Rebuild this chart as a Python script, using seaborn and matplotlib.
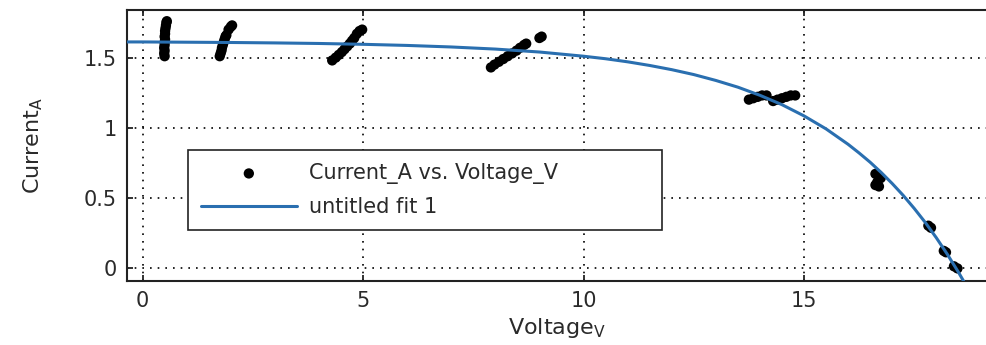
import numpy as np
import pandas as pd
import matplotlib
matplotlib.use("Agg")
import matplotlib.pyplot as plt
import seaborn as sns

# ---- data ----
voltage_v = [0.50, 0.49, 0.50, 0.49, 0.50, 0.50, 0.51, 0.50, 0.51, 0.51, 0.52, 0.53, 0.54, 0.55,
             1.75, 1.77, 1.79, 1.80, 1.82, 1.84, 1.86, 1.88, 1.90, 1.95, 2.00, 2.03,
             4.30, 4.38, 4.45, 4.52, 4.58, 4.64, 4.70, 4.75, 4.80, 4.86, 4.92, 4.98,
             7.90, 7.98, 8.08, 8.18, 8.28, 8.38, 8.48, 8.56, 8.65, 8.70, 9.00, 9.05,
             13.75, 13.85, 13.95, 14.05, 14.15, 14.30, 14.40, 14.50, 14.60, 14.70, 14.80,
             16.62, 16.68, 16.74, 16.66, 16.62, 16.70,
             17.82, 17.88, 18.17, 18.22, 18.40, 18.48]
current_a = [1.51, 1.53, 1.55, 1.57, 1.59, 1.61, 1.63, 1.65, 1.67, 1.69, 1.71, 1.73, 1.75, 1.76,
             1.51, 1.53, 1.55, 1.57, 1.59, 1.61, 1.63, 1.65, 1.66, 1.70, 1.72, 1.73,
             1.48, 1.50, 1.52, 1.54, 1.56, 1.58, 1.60, 1.62, 1.64, 1.67, 1.69, 1.70,
             1.43, 1.45, 1.47, 1.49, 1.51, 1.53, 1.55, 1.57, 1.59, 1.60, 1.64, 1.65,
             1.20, 1.21, 1.22, 1.23, 1.23, 1.19, 1.20, 1.21, 1.22, 1.23, 1.23,
             0.67, 0.66, 0.64, 0.61, 0.59, 0.58,
             0.30, 0.285, 0.12, 0.11, 0.01, -0.005]

fit_voltage = [-0.4, 0, 1, 2, 3, 4, 5, 6, 7, 8, 9, 10, 10.5, 11, 11.5, 12, 12.5, 13, 13.5,
               14, 14.5, 15, 15.5, 16, 16.25, 16.5, 16.75, 17, 17.25, 17.5, 17.75, 18,
               18.25, 18.5, 18.62]
fit_current = [1.612, 1.612, 1.610, 1.608, 1.605, 1.601, 1.595, 1.587, 1.576, 1.561, 1.540,
               1.510, 1.492, 1.470, 1.444, 1.414, 1.379, 1.337, 1.289,
               1.231, 1.164, 1.084, 0.991, 0.881, 0.819, 0.753, 0.680, 0.601, 0.516, 0.423,
               0.323, 0.214, 0.096, -0.031, -0.096]

x_ticks = [0, 5, 10, 15]
y_ticks = [0, 0.5, 1, 1.5]
x_tick_labels = ["0", "5", "10", "15"]
y_tick_labels = ["0", "0.5", "1", "1.5"]

scatter_label = "Current_A vs. Voltage_V"
fit_label = "untitled fit 1"

# ---- styling ----
sns.set_theme(style="white")
plt.rcParams["font.family"] = ["DejaVu Sans"]
plt.rcParams["mathtext.fontset"] = "custom"
plt.rcParams["mathtext.rm"] = "DejaVu Sans"

fig = plt.figure(figsize=(9.87, 3.45), dpi=100)
ax = fig.add_axes([126.7 / 987, 1 - 281 / 345, 1 - 126.7 / 987, (281 - 10) / 345])

df_pts = pd.DataFrame({"V": voltage_v, "I": current_a})
df_fit = pd.DataFrame({"V": fit_voltage, "I": fit_current})

sns.scatterplot(data=df_pts, x="V", y="I", ax=ax, color="black", s=55,
                edgecolor="none", linewidth=0, label=scatter_label, zorder=3)
sns.lineplot(data=df_fit, x="V", y="I", ax=ax, color="#2a6fb0", linewidth=2.2,
             sort=False, estimator=None, label=fit_label, zorder=4)

ax.set_xlim(-0.36, 19.15)
ax.set_ylim(-0.095, 1.84)
ax.set_xticks(x_ticks)
ax.set_xticklabels(x_tick_labels)
ax.set_yticks(y_ticks)
ax.set_yticklabels(y_tick_labels)

ax.grid(True, color="black", linestyle=(0, (1, 3.6)), linewidth=1.2)
ax.set_axisbelow(True)

for side in ["left", "bottom", "top"]:
    ax.spines[side].set_visible(True)
    ax.spines[side].set_color("#222222")
    ax.spines[side].set_linewidth(1.5)
ax.spines["right"].set_visible(False)

ax.tick_params(axis="both", direction="in", length=4, width=1.3, color="#222222",
               labelsize=15, labelcolor="#2a2a2a", pad=7, top=True, bottom=True,
               left=True, right=False)

ax.set_xlabel("Voltage$_\\mathrm{V}$", fontsize=16, color="#2a2a2a", labelpad=4)
ax.set_ylabel("Current$_\\mathrm{A}$", fontsize=16, color="#2a2a2a", labelpad=28,
              family=["Liberation Sans Narrow", "DejaVu Sans"])

leg = ax.legend(loc="upper left",
                bbox_to_anchor=(188 / 987, 1 - 229 / 345, (662 - 188) / 987, 79 / 345),
                bbox_transform=fig.transFigure, mode="expand", borderaxespad=0,
                fontsize=15, frameon=True, fancybox=False, framealpha=1,
                handlelength=4.6, handletextpad=0.6, labelspacing=0.62,
                borderpad=0.62, markerscale=1.0)
leg.get_frame().set_edgecolor("#222222")
leg.get_frame().set_linewidth(1.2)
for t in leg.get_texts():
    t.set_color("#2a2a2a")

fig.savefig("out.png", dpi=100)
